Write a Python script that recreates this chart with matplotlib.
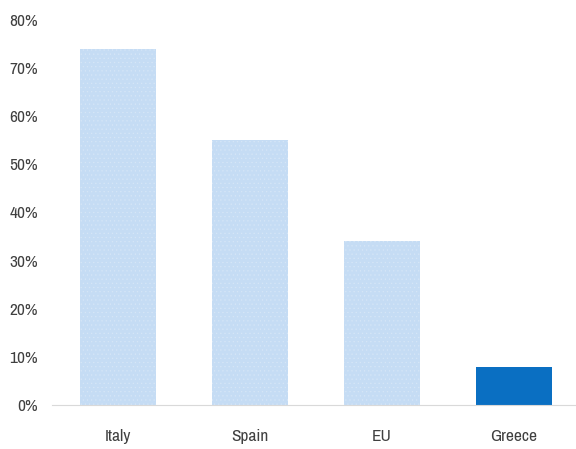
import matplotlib.pyplot as plt
from matplotlib import font_manager

names = sorted({f.name for f in font_manager.fontManager.ttflist})
narrow = [n for n in names if 'Narrow' in n or 'Condensed' in n]
fam = narrow[0] if narrow else 'Liberation Sans'
plt.rcParams['font.family'] = [fam, 'DejaVu Sans']
plt.rcParams['hatch.linewidth'] = 0.4

countries = ["Italy", "Spain", "EU", "Greece"]
shares = [74, 55, 34, 8]
bar_colors = ["#c5dcf4", "#c5dcf4", "#c5dcf4", "#0a6fc2"]
yticks = [0, 10, 20, 30, 40, 50, 60, 70, 80]

fig = plt.figure(figsize=(5.76, 4.49), dpi=100)
ax = fig.add_axes([52/576, 44/449, 1 - 52/576, 385/449])

x = list(range(len(countries)))
bars = ax.bar(x, shares, width=0.58, color=bar_colors, linewidth=0)
for b in bars[:3]:
    b.set_hatch('....')
    b.set_edgecolor('#d6e6f7')

ax.set_xlim(-0.5, 3.47)
ax.set_ylim(0, 80)
ax.set_yticks(yticks)
ax.set_yticklabels([f"{v}%" for v in yticks])
ax.set_xticks(x)
ax.set_xticklabels(countries)

for s in ['top', 'right', 'left']:
    ax.spines[s].set_visible(False)
ax.spines['bottom'].set_color('#d9d9d9')
size = 12.5 if narrow else 10.5
ax.tick_params(axis='both', length=0, labelsize=size, colors='#404040')
ax.tick_params(axis='y', pad=10)
ax.tick_params(axis='x', pad=17)

fig.savefig("out.png", dpi=100)
